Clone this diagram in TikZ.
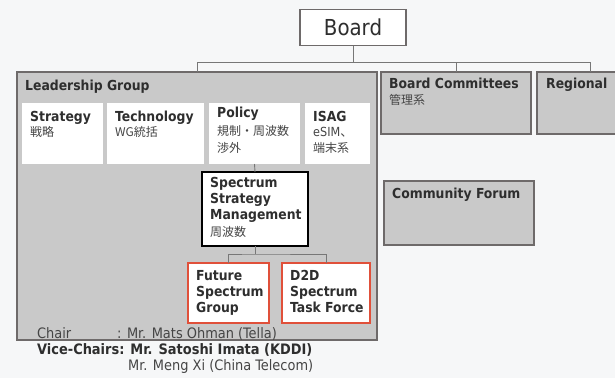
\documentclass[tikz,border=0pt]{standalone}
\usepackage{fontspec}
\setmainfont{DejaVu Sans Condensed}
\newfontfamily\cjk{Noto Sans CJK JP}
\definecolor{bgc}{HTML}{F6F7F8}
\definecolor{grayfill}{HTML}{C9C9C9}
\definecolor{grayline}{HTML}{6E6A6A}
\definecolor{txt}{HTML}{2E2E2E}
\definecolor{subtxt}{HTML}{454545}
\definecolor{redline}{HTML}{E0503A}
\definecolor{conn}{HTML}{777777}
\tikzset{
  graybox/.style={draw=grayline, fill=grayfill, line width=1.4pt, anchor=north west, inner sep=0pt, outer sep=0pt},
  whitebox/.style={fill=white, draw=none, anchor=north west, inner sep=0pt, outer sep=0pt},
  ssmbox/.style={draw=black, fill=white, line width=1.8pt, anchor=north west, inner sep=0pt, outer sep=0pt},
  redbox/.style={draw=redline, fill=white, line width=1.8pt, anchor=north west, inner sep=0pt, outer sep=0pt},
  boardbox/.style={draw=grayline, fill=white, line width=1.2pt, anchor=north west, inner sep=0pt, outer sep=0pt, font=\fontsize{22}{24}\selectfont, text=txt},
  conline/.style={draw=conn, line width=0.9pt},
  ttl/.style={anchor=north west, inner sep=0pt, align=left, text=txt, font=\bfseries\fontsize{13.8}{16.2}\selectfont},
  chairtxt/.style={anchor=base west, inner sep=0pt, text=subtxt, font=\fontsize{14.4}{16}\selectfont},
}
\newcommand{\jpt}{\cjk\fontsize{12}{16}\selectfont\mdseries\color{subtxt}}
\begin{document}
\begin{tikzpicture}[x=1pt,y=-1pt]
\fill[bgc] (0,0) rectangle (615,378);
\useasboundingbox (0,0) rectangle (615,378);
\clip (0,0) rectangle (615,378);
% top level
\node[boardbox, minimum width=106pt, minimum height=36pt] (board) at (300,9.5) {Board};
\node[graybox, minimum width=360pt, minimum height=268pt] (lg) at (17,72) {};
\node[graybox, minimum width=150pt, minimum height=62pt] (bc) at (381,72) {};
\node[graybox, minimum width=106pt, minimum height=62pt] (reg) at (537,72) {};
\node[graybox, minimum width=150pt, minimum height=64pt] (cf) at (384,181) {};
% connectors top
\path (board.south) ++(0,17) coordinate (bus);
\draw[conline] (board.south) -- (bus);
\draw[conline] (lg.north) |- (bus) -| (reg.north);
\draw[conline] (bc.north) -- (bc.north |- bus);
% inner boxes
\node[whitebox, minimum width=81pt, minimum height=61pt] (strat) at (22,103) {};
\node[whitebox, minimum width=97pt, minimum height=61pt] (tech) at (107,103) {};
\node[whitebox, minimum width=91pt, minimum height=61pt] (pol) at (209,103) {};
\node[whitebox, minimum width=65pt, minimum height=61pt] (isag) at (305,103) {};
\node[ssmbox, minimum width=106pt, minimum height=74pt] (ssm) at (202,172) {};
\node[redbox, minimum width=81pt, minimum height=60pt] (fsg) at (188,263) {};
\node[redbox, minimum width=88pt, minimum height=60pt] (d2d) at (282,263) {};
\draw[conline] (pol.south) -- (ssm.north);
\path (ssm.south) ++(0,8) coordinate (sj);
\draw[conline] (ssm.south) -- (sj);
\draw[conline] (fsg.north) |- (sj) -| (d2d.north);
% texts
\node[ttl] (tlg) at (25,80) {Leadership Group};
\node[ttl] (tbc) at (389,78) {Board Committees\\[0pt]{\jpt 管理系}};
\node[ttl] (treg) at (546,78) {Regional};
\node[ttl] (tcf) at (392,188) {Community Forum};
\node[ttl] (tstrat) at (30,111) {Strategy\\[-1pt]{\jpt 戦略}};
\node[ttl] (ttech) at (115,111) {Technology\\[-1pt]{\jpt WG統括}};
\node[ttl] (tpol) at (217,107) {Policy\\[2pt]{\jpt 規制・周波数}\\{\jpt 渉外}};
\node[ttl] (tisag) at (313,111) {ISAG\\[-1pt]{\color{subtxt}\fontsize{12.5}{16}\selectfont\mdseries eSIM{\cjk 、}}\\{\jpt 端末系}};
\node[ttl] (tssm) at (210,177) {Spectrum\\Strategy\\Management\\{\jpt 周波数}};
\node[ttl] (tfsg) at (196,270) {Future\\Spectrum\\Group};
\node[ttl] (td2d) at (290,270) {D2D\\Spectrum\\Task Force};
% chairs
\node[chairtxt] (c1) at (37,338) {Chair};
\node[chairtxt] (c2) at (117,338) {: Mr. Mats Ohman (Tella)};
\node[chairtxt, font=\bfseries\fontsize{14.4}{16}\selectfont, text=txt] (c3) at (37,354) {Vice-Chairs: Mr. Satoshi Imata (KDDI)};
\node[chairtxt] (c4) at (128,370) {Mr. Meng Xi (China Telecom)};
\end{tikzpicture}
\end{document}
